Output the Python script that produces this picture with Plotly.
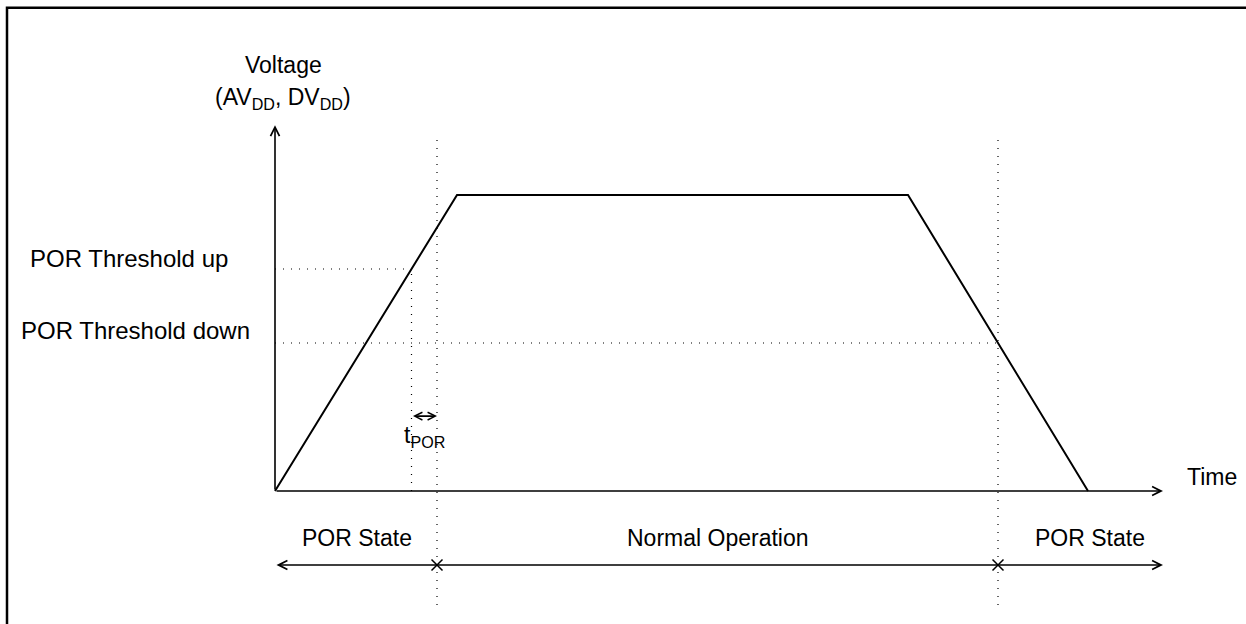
import plotly.graph_objects as go

# ---- data (time in arbitrary units, voltage normalised to supply level) ----
wave_time = [0, 18.2, 63.3, 81.3]
wave_volt = [0, 1.0, 1.0, 0]
por_up = 0.75
por_down = 0.5
t_por_start = 13.65
t_por_end = 16.2
por_down_time = 72.3
time_axis_end = 88.8
volt_axis_end = 1.236
state_labels = ["POR State", "Normal Operation", "POR State"]
state_label_x = [8.2, 44.3, 81.5]
state_row_y = -0.25
state_label_y = -0.16
vline_top = 1.2
vline_bottom = -0.385
threshold_labels = ["POR Threshold up", "POR Threshold down"]

FONT = dict(family="Liberation Sans, Arial, sans-serif", size=23, color="black")
FONT_TH = dict(family="Liberation Sans, Arial, sans-serif", size=24, color="black")
DOT = "1px,7px"

fig = go.Figure()

# waveform
fig.add_trace(go.Scatter(x=wave_time, y=wave_volt, mode="lines",
                         line=dict(color="black", width=2), hoverinfo="skip"))

# threshold dotted lines
fig.add_trace(go.Scatter(x=[0, t_por_start], y=[por_up, por_up], mode="lines",
                         line=dict(color="black", width=1.2, dash=DOT), hoverinfo="skip"))
fig.add_trace(go.Scatter(x=[0, por_down_time], y=[por_down, por_down], mode="lines",
                         line=dict(color="black", width=1.2, dash=DOT), hoverinfo="skip"))
# vertical dotted lines
fig.add_trace(go.Scatter(x=[t_por_start, t_por_start], y=[0, por_up], mode="lines",
                         line=dict(color="black", width=1.2, dash=DOT), hoverinfo="skip"))
for tx in [t_por_end, por_down_time]:
    fig.add_trace(go.Scatter(x=[tx, tx], y=[vline_bottom, vline_top], mode="lines",
                             line=dict(color="black", width=1.2, dash=DOT), hoverinfo="skip"))

# X markers on state row
fig.add_trace(go.Scatter(x=[t_por_end, por_down_time], y=[state_row_y, state_row_y], mode="markers",
                         marker=dict(symbol="x-thin", size=11, line=dict(color="black", width=1.5)),
                         hoverinfo="skip"))

ann = []
def arrow(x0, y0, x1, y1, both=False, size=1.1):
    ann.append(dict(x=x1, y=y1, ax=x0, ay=y0, xref="x", yref="y", axref="x", ayref="y",
                    text="", showarrow=True, arrowhead=5, arrowsize=size, arrowwidth=1.6,
                    arrowcolor="black", standoff=0, startstandoff=0,
                    arrowside="end+start" if both else "end", startarrowhead=5,
                    startarrowsize=size))

arrow(0, 0, 0, volt_axis_end)
arrow(0, 0, time_axis_end, 0)
arrow(0, state_row_y, time_axis_end, state_row_y, both=True)
arrow(t_por_start, 0.253, t_por_end, 0.253, both=True, size=0.95)

def text(x, y, s, xanchor="center", yanchor="middle", yshift=0, font=FONT):
    ann.append(dict(x=x, y=y, xref="x", yref="y", text=s, showarrow=False,
                    xanchor=xanchor, yanchor=yanchor, yshift=yshift, font=font))

text(0.8, 1.44, "Voltage")
text(0.8, 1.325, "(AV<sub>DD</sub>, DV<sub>DD</sub>)")
text(-14.65, por_up, threshold_labels[0], yshift=11, font=FONT_TH)
text(-13.95, por_down, threshold_labels[1], yshift=13, font=FONT_TH)
text(time_axis_end + 2.2, 0, "Time", xanchor="left", yshift=14)
text((t_por_start + t_por_end) / 2, 0.185, "t<sub>POR</sub>")
for lx, lab in zip(state_label_x, state_labels):
    text(lx, state_label_y, lab)

fig.update_layout(
    width=1246, height=624, margin=dict(l=0, r=0, t=0, b=0),
    paper_bgcolor="white", plot_bgcolor="white", showlegend=False,
    xaxis=dict(range=[-27.5, 97.1], visible=False, fixedrange=True),
    yaxis=dict(range=[-0.44932, 1.65878], visible=False, fixedrange=True),
    annotations=ann,
    shapes=[dict(type="rect", xref="paper", yref="paper", x0=7 / 1246, x1=1.02,
                 y0=-0.05, y1=1 - 7.7 / 624, line=dict(color="black", width=2.5))],
)

fig.write_html("out.html", config={"displayModeBar": False},
               post_script="document.body.style.margin='0';document.body.style.overflow='hidden';")
